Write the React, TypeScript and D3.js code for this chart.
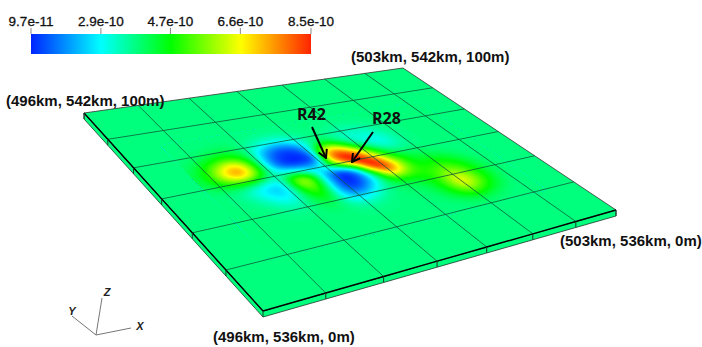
import React from 'react'
import * as d3 from 'd3'

const WIDTH = 702
const HEIGHT = 347

// colour bar
const legendValues = [0.97, 2.85, 4.72, 6.6, 8.5] // unit 1e-10
const legendLabels = ['9.7e-11', '2.9e-10', '4.7e-10', '6.6e-10', '8.5e-10']
const legendColors = ['#0024ff', '#00ffff', '#00ff00', '#ffff00', '#ff2400']

// plate extent, km and m
const xTicksKm = [496, 497, 498, 499, 500, 501, 502, 503]
const yTicksKm = [542, 541, 540, 539, 538, 537, 536]
const plateThicknessM = 100

const background = 3.8

// field, unit 1e-10, columns 496.75km..502.25km every 250m,
// rows 540.5km down to 537km every 250m
const fieldColsKm = d3.range(496.75, 502.26, 0.25)
const fieldRowsKm = d3.range(540.5, 536.99, -0.25)
const fieldRows = [
  [3.8, 3.8, 3.8, 3.8, 3.8, 3.8, 3.8, 3.8, 3.8, 3.8, 3.8, 3.8, 3.8, 3.8, 3.8, 3.8, 3.8, 3.8, 3.8, 3.8, 3.8, 3.8, 3.8],
  [3.8, 3.8, 3.8, 3.85, 3.85, 3.8, 3.7, 3.6, 3.6, 3.7, 3.8, 3.8, 3.75, 3.7, 3.7, 3.75, 3.8, 3.8, 3.8, 3.8, 3.8, 3.8, 3.8],
  [3.8, 3.85, 4.0, 4.2, 4.1, 3.7, 3.2, 2.9, 2.9, 3.3, 3.7, 3.8, 3.6, 3.4, 3.4, 3.5, 3.7, 3.8, 3.8, 3.8, 3.8, 3.8, 3.8],
  [3.85, 4.2, 4.7, 5.0, 4.7, 3.6, 2.1, 1.3, 1.4, 2.4, 3.7, 4.2, 3.5, 3.1, 3.1, 3.2, 3.5, 3.75, 3.8, 3.8, 3.8, 3.8, 3.8],
  [4.0, 4.8, 6.2, 7.4, 6.0, 3.4, 1.4, 0.97, 0.97, 1.5, 6.2, 7.0, 5.0, 3.6, 3.0, 2.8, 3.3, 3.7, 3.8, 3.8, 3.8, 3.8, 3.8],
  [4.1, 5.0, 6.9, 8.2, 6.2, 3.5, 1.4, 0.9, 0.9, 1.1, 8.0, 9.0, 8.0, 5.4, 3.9, 3.2, 3.4, 3.7, 3.8, 3.8, 3.8, 3.8, 3.8],
  [3.9, 4.4, 5.0, 5.2, 4.5, 3.2, 3.6, 3.1, 2.5, 4.0, 5.8, 8.8, 9.0, 7.4, 5.0, 4.1, 3.9, 3.85, 3.8, 3.8, 3.8, 3.8, 3.8],
  [3.8, 3.8, 3.5, 2.9, 2.4, 2.5, 6.2, 6.4, 3.0, 0.97, 0.9, 3.2, 9.0, 9.0, 6.5, 4.9, 4.3, 4.2, 4.0, 3.85, 3.8, 3.8, 3.8],
  [3.8, 3.8, 3.6, 3.0, 2.4, 2.6, 5.2, 5.6, 2.7, 0.9, 0.9, 2.0, 4.6, 8.4, 6.6, 5.0, 4.6, 4.8, 4.6, 4.2, 3.9, 3.8, 3.8],
  [3.8, 3.8, 3.8, 3.5, 3.0, 3.1, 4.5, 5.0, 2.5, 1.0, 1.3, 2.7, 4.2, 4.9, 4.9, 4.9, 5.0, 5.4, 5.1, 4.6, 4.1, 3.85, 3.8],
  [3.8, 3.8, 3.8, 3.8, 3.6, 3.6, 4.1, 4.2, 3.0, 2.3, 2.8, 3.5, 3.9, 4.0, 4.2, 4.6, 5.3, 6.3, 5.7, 4.8, 4.2, 3.9, 3.8],
  [3.8, 3.8, 3.8, 3.8, 3.8, 3.8, 3.85, 3.9, 3.7, 3.5, 3.6, 3.8, 3.85, 3.9, 4.0, 4.5, 5.6, 7.0, 6.0, 5.0, 4.2, 3.85, 3.8],
  [3.8, 3.8, 3.8, 3.8, 3.8, 3.8, 3.8, 3.8, 3.8, 3.8, 3.8, 3.8, 3.8, 3.85, 3.9, 4.3, 5.0, 5.8, 5.2, 4.5, 4.0, 3.8, 3.8],
  [3.8, 3.8, 3.8, 3.8, 3.8, 3.8, 3.8, 3.8, 3.8, 3.8, 3.8, 3.8, 3.8, 3.8, 3.8, 3.9, 4.1, 4.2, 4.1, 3.9, 3.8, 3.8, 3.8],
  [3.8, 3.8, 3.8, 3.8, 3.8, 3.8, 3.8, 3.8, 3.8, 3.8, 3.8, 3.8, 3.8, 3.8, 3.8, 3.8, 3.8, 3.8, 3.8, 3.8, 3.8, 3.8, 3.8]
]

// plate corners on screen: back left, back right, right, front
const corners = [[84, 113], [403, 68], [616, 210], [263, 311]]

const quadMap = (q: number[][]) => {
  const [[x0, y0], [x1, y1], [x2, y2], [x3, y3]] = q
  const dx1 = x1 - x2
  const dx2 = x3 - x2
  const sx = x0 - x1 + x2 - x3
  const dy1 = y1 - y2
  const dy2 = y3 - y2
  const sy = y0 - y1 + y2 - y3
  const den = dx1 * dy2 - dx2 * dy1
  const g = (sx * dy2 - dx2 * sy) / den
  const h = (dx1 * sy - sx * dy1) / den
  return (u: number, v: number): [number, number] => {
    const w = g * u + h * v + 1
    return [
      ((x1 - x0 + g * x1) * u + (x3 - x0 + h * x3) * v + x0) / w,
      ((y1 - y0 + g * y1) * u + (y3 - y0 + h * y3) * v + y0) / w
    ]
  }
}

const toScreen = quadMap(corners)
const uScale = d3.scaleLinear().domain([496, 503]).range([0, 1])
const vScale = d3.scaleLinear().domain([542, 536]).range([0, 1])
const project = (xKm: number, yKm: number) => toScreen(uScale(xKm), vScale(yKm))
const thickness = d3.scaleLinear().domain([0, plateThicknessM]).range([0, 6])

const colorScale = d3.scaleLinear<string>().domain(legendValues).range(legendColors).clamp(true)
const legendScale = d3.scaleLinear().domain([legendValues[0], legendValues[4]]).range([31, 311])

// resample the read values finer and blur them so the bands come out smooth
const FINE = 4
const nCols = fieldColsKm.length
const nRows = fieldRowsKm.length
const fineW = (nCols - 1) * FINE + 1
const fineH = (nRows - 1) * FINE + 1
const fine = new Float64Array(fineW * fineH)
for (let j = 0; j < fineH; ++j) {
  for (let i = 0; i < fineW; ++i) {
    const r = Math.min(Math.floor(j / FINE), nRows - 2)
    const c = Math.min(Math.floor(i / FINE), nCols - 2)
    const a = i / FINE - c
    const b = j / FINE - r
    fine[j * fineW + i] = (1 - b) * ((1 - a) * fieldRows[r][c] + a * fieldRows[r][c + 1]) +
      b * ((1 - a) * fieldRows[r + 1][c] + a * fieldRows[r + 1][c + 1])
  }
}
d3.blur2({ data: fine, width: fineW, height: fineH }, 1.2)

// contour grid index to km (d3.contours puts sample i at i + 0.5)
const colIndex = d3.scaleLinear().domain([0.5, fineW - 0.5])
  .range([fieldColsKm[0], fieldColsKm[nCols - 1]])
const rowIndex = d3.scaleLinear().domain([0.5, fineH - 0.5])
  .range([fieldRowsKm[0], fieldRowsKm[nRows - 1]])

const fieldPath = d3.geoPath(d3.geoTransform({
  point (x, y) {
    const p = project(colIndex(x), rowIndex(y))
    this.stream.point(p[0], p[1])
  }
}))

const levels = d3.range(0.97, 8.5, 0.06)
const contours = d3.contours()
  .size([fineW, fineH])
  .smooth(true)
  .thresholds(levels)(Array.from(fine))

const linePath = d3.line()
const label = { fontFamily: 'Liberation Sans', fontWeight: 700, fontSize: 15, fill: '#111' }

export default function App () {
  const front = (p: [number, number]): [number, number] => [p[0], p[1] + thickness(plateThicknessM)]
  const leftEdge = yTicksKm.map(y => project(496, y))
  const frontEdge = xTicksKm.map(x => project(x, 536))
  const sideOutline = [
    ...leftEdge,
    ...frontEdge.slice(1),
    ...frontEdge.slice().reverse().map(front),
    ...leftEdge.slice(0, -1).reverse().map(front)
  ]
  const surface = [project(496, 542), project(503, 542), project(503, 536), project(496, 536)]
  return <svg width={WIDTH} height={HEIGHT} viewBox={`0 0 ${WIDTH} ${HEIGHT}`}
    style={{ position: 'absolute', left: 0, top: 0, background: '#fff', display: 'block' }}>
    <defs>
      <linearGradient id='bar' x1='0' x2='1' y1='0' y2='0'>
        {legendValues.map((v, i) => <stop key={i} offset={i / 4} stopColor={colorScale(v)} />)}
      </linearGradient>
      <marker id='tip' viewBox='0 0 10 10' refX='9' refY='5' markerWidth='5' markerHeight='5' orient='auto'>
        <path d='M1,0.5 L9,5 L1,9.5' fill='none' stroke='#000' strokeWidth='2' />
      </marker>
    </defs>

    <g>
      <rect x={legendScale(legendValues[0])} y={34} width={280} height={20} fill='url(#bar)' />
      {legendValues.map((v, i) => <g key={i} transform={`translate(${legendScale(v)},0)`}>
        <line y1={28} y2={34} stroke='#888' />
        <text y={26} textAnchor='middle' fontFamily='Liberation Sans' fontSize={13.5} fill='#111'
          stroke='#111' strokeWidth={0.3}>{legendLabels[i]}</text>
      </g>)}
    </g>

    <g>
      <path d={linePath(sideOutline) + 'Z'} fill={colorScale(background)} stroke='#1c3a2c' strokeWidth={0.8} />
      <path d={linePath(surface) + 'Z'} fill={colorScale(background)} />
      {contours.map((c, i) => <path key={i} d={fieldPath(c) || ''} fill={colorScale(c.value + 0.03)} />)}
      {xTicksKm.slice(1, -1).map(x => <line key={x}
        x1={project(x, 542)[0]} y1={project(x, 542)[1]} x2={project(x, 536)[0]} y2={project(x, 536)[1]}
        stroke='#0e5a3a' strokeWidth={0.8} />)}
      {yTicksKm.slice(1, -1).map(y => <line key={y}
        x1={project(496, y)[0]} y1={project(496, y)[1]} x2={project(503, y)[0]} y2={project(503, y)[1]}
        stroke='#0e5a3a' strokeWidth={0.8} />)}
      <path d={linePath([surface[3], surface[0], surface[1], surface[2]]) || ''} fill='none' stroke='#333' strokeWidth={0.8} />
      <path d={linePath(leftEdge) || ''} fill='none' stroke='#000' strokeWidth={1.4} />
      <path d={linePath(frontEdge) || ''} fill='none' stroke='#000' strokeWidth={1.4} />
      {[...leftEdge, ...frontEdge.slice(1)].map((p, i) => <line key={i}
        x1={p[0]} y1={p[1]} x2={p[0]} y2={p[1] + thickness(plateThicknessM)} stroke='#1c3a2c' strokeWidth={1} />)}
    </g>

    <g {...label}>
      <text x={6} y={106}>(496km, 542km, 100m)</text>
      <text x={351} y={62}>(503km, 542km, 100m)</text>
      <text x={560} y={246}>(503km, 536km, 0m)</text>
      <text x={213} y={342}>(496km, 536km, 0m)</text>
    </g>

    <g fontFamily='Open Sans' fontWeight={700} fontSize={16} fill='#111'>
      <text x={297} y={120}>R42</text>
      <text x={372} y={124}>R28</text>
    </g>
    <line x1={312} y1={127} x2={326} y2={158} stroke='#000' strokeWidth={2} markerEnd='url(#tip)' />
    <line x1={373} y1={132} x2={352} y2={162} stroke='#000' strokeWidth={2} markerEnd='url(#tip)' />

    <g stroke='#777' strokeWidth={1}>
      <line x1={96} y1={335} x2={102} y2={298} />
      <line x1={96} y1={335} x2={72} y2={316} />
      <line x1={96} y1={335} x2={131} y2={328} />
    </g>
    <g fontFamily='Liberation Sans' fontStyle='italic' fontWeight={700} fontSize={11} fill='#222' textAnchor='middle'>
      <text x={107} y={296}>Z</text>
      <text x={72} y={315}>Y</text>
      <text x={140} y={330}>X</text>
    </g>
  </svg>
}
